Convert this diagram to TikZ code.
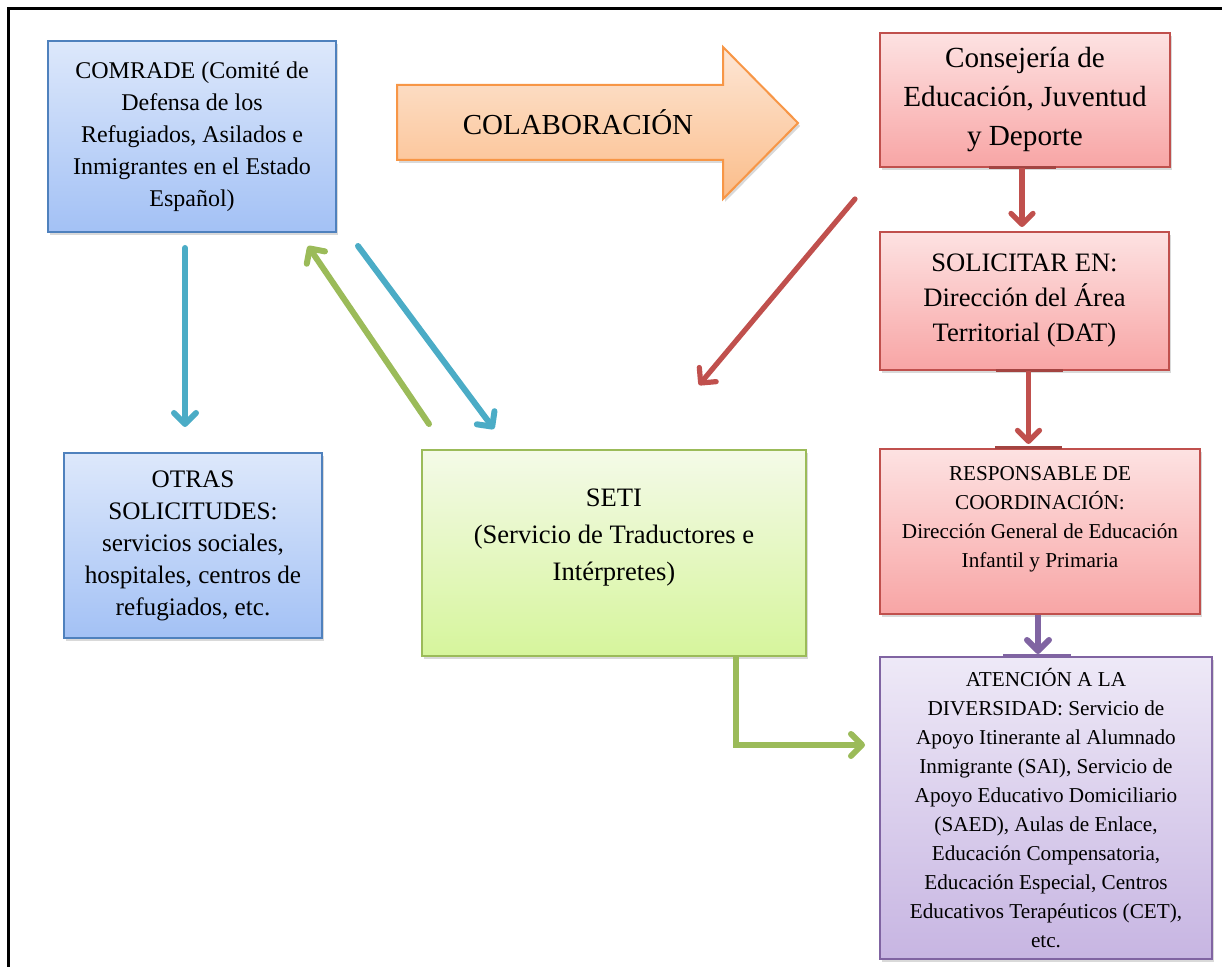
\documentclass[tikz,border=0pt]{standalone}
\usepackage{fontspec}
\setmainfont{Liberation Serif}
\usetikzlibrary{arrows.meta,shadows,calc}
\definecolor{bluebd}{HTML}{4F81BD}
\definecolor{bluetop}{HTML}{DDE8FB}
\definecolor{bluebot}{HTML}{A3C1F5}
\definecolor{orangebd}{HTML}{F79646}
\definecolor{orangetop}{HTML}{FDE6D5}
\definecolor{orangebot}{HTML}{FBBD8A}
\definecolor{redbd}{HTML}{C0504D}
\definecolor{redtop}{HTML}{FDE2E2}
\definecolor{redbot}{HTML}{F8A5A5}
\definecolor{greenbd}{HTML}{9BBB59}
\definecolor{greentop}{HTML}{F4FAE8}
\definecolor{greenbot}{HTML}{D6F59C}
\definecolor{purplebd}{HTML}{8064A2}
\definecolor{purpletop}{HTML}{EEE9F7}
\definecolor{purplebot}{HTML}{C7B5E2}
\definecolor{cyanarrow}{HTML}{4BACC6}
\begin{document}
\begin{tikzpicture}[x=0.5pt,y=-0.5pt,
  box/.style={draw, line width=1pt, align=center, inner sep=2pt,
    drop shadow={shadow xshift=1pt, shadow yshift=-1.5pt, opacity=0.3}},
  bluebox/.style={box, draw=bluebd, top color=bluetop, bottom color=bluebot},
  redbox/.style={box, draw=redbd, top color=redtop, bottom color=redbot},
  greenbox/.style={box, draw=greenbd, top color=greentop, bottom color=greenbot},
  purplebox/.style={box, draw=purplebd, top color=purpletop, bottom color=purplebot},
  orangearrow/.style={draw=orangebd, line width=1pt, line join=miter, top color=orangetop, bottom color=orangebot,
    drop shadow={shadow xshift=1pt, shadow yshift=-1.5pt, opacity=0.3}},
  conn/.style={line width=3pt, line cap=round,
    -{Straight Barb[length=5.5pt,width=11pt,line cap=round,line join=round]}},
  blueconn/.style={conn, draw=cyanarrow},
  greenconn/.style={conn, draw=greenbd},
  redconn/.style={conn, draw=redbd, line width=2.6pt},
  purpleconn/.style={conn, draw=purplebd},
  bar/.style={line width=1.5pt}
]
\useasboundingbox (0,0) rectangle (1222,967);
\draw[line width=1.4pt] (8.7,970) -- (8.7,8.7) -- (1225,8.7);

% boxes
\node[bluebox, minimum width=144pt, minimum height=95.5pt, font=\fontsize{12}{16}\selectfont] (comrade) at (192,136.5)
  {COMRADE (Comité de\\Defensa de los\\Refugiados, Asilados e\\Inmigrantes en el Estado\\Español)};
\node[bluebox, minimum width=129pt, minimum height=92.5pt, font=\fontsize{12.6}{16}\selectfont] (otras) at (193,545.5)
  {OTRAS\\SOLICITUDES:\\servicios sociales,\\hospitales, centros de\\refugiados, etc.};
\node[greenbox, minimum width=192pt, minimum height=103pt, font=\fontsize{13.3}{18.5}\selectfont] (seti) at (614,553)
  {SETI\\(Servicio de Traductores e\\Intérpretes)\\\mbox{}};
\node[redbox, minimum width=145pt, minimum height=67pt, font=\fontsize{14.6}{19.5}\selectfont] (conse) at (1025,100)
  {Consejería de\\Educación, Juventud\\y Deporte};
\node[redbox, minimum width=144.5pt, minimum height=69pt, font=\fontsize{13.3}{17.5}\selectfont] (solic) at (1024.5,301)
  {SOLICITAR EN:\\Dirección del Área\\Territorial (DAT)};
\node[redbox, minimum width=160pt, minimum height=82.5pt, font=\fontsize{10.6}{14.5}\selectfont] (resp) at (1040,531.5)
  {RESPONSABLE DE\\COORDINACIÓN:\\Dirección General de Educación\\Infantil y Primaria\\\mbox{}};
\node[purplebox, minimum width=166pt, minimum height=151pt, font=\fontsize{10.6}{14.5}\selectfont] (atenc) at (1046,808)
  {ATENCIÓN A LA\\DIVERSIDAD: Servicio de\\Apoyo Itinerante al Alumnado\\Inmigrante (SAI), Servicio de\\Apoyo Educativo Domiciliario\\(SAED), Aulas de Enlace,\\Educación Compensatoria,\\Educación Especial, Centros\\Educativos Terapéuticos (CET),\\etc.};

% collaboration arrow
\path[orangearrow] (397,85) -- (723,85) -- (723,47) -- (798,123) -- (723,199) -- (723,160) -- (397,160) -- cycle;
\node[font=\fontsize{14.5}{18}\selectfont] (colab) at (578,122) {COLABORACIÓN};

% connector marks
\draw[bar, draw=redbd!85!black] ([xshift=-18pt]conse.south) -- ([xshift=15.5pt]conse.south);
\draw[bar, draw=redbd!85!black] ([xshift=-14.5pt]solic.south) -- ([xshift=19pt]solic.south);
\draw[bar, draw=redbd!85!black] ([xshift=-22.5pt]resp.north) -- ([xshift=11pt]resp.north);
\draw[bar, draw=purplebd] ([xshift=-21.5pt]atenc.north) -- ([xshift=12.5pt]atenc.north);

% connectors
\draw[blueconn] ([xshift=-3.5pt,yshift=-7.5pt]comrade.south) -- ([xshift=-4pt,yshift=12.5pt]otras.north);
\draw[blueconn] ([xshift=10.5pt,yshift=-6.5pt]comrade.south east) -- ([xshift=36.5pt,yshift=10pt]seti.north west);
\draw[greenconn] ([xshift=4pt,yshift=12.5pt]seti.north west) -- ([xshift=-14.5pt,yshift=-6.5pt]comrade.south east);
\draw[redconn] ([xshift=-12pt,yshift=-15.5pt]conse.south west) -- ([xshift=-54pt,yshift=32pt]seti.north east);
\draw[redconn, line cap=butt] ([xshift=-1.5pt]conse.south) -- ([xshift=-1.5pt,yshift=2pt]conse.south |- solic.north);
\draw[redconn, line cap=butt] ([xshift=2pt]solic.south) -- ([xshift=2pt,yshift=2pt]solic.south |- resp.north);
\draw[purpleconn, line cap=butt] ([xshift=-1pt]resp.south) -- ([xshift=-1pt,yshift=1pt]resp.south |- atenc.north);
\draw[greenconn, line cap=butt, line join=miter] ([xshift=61pt]seti.south) |- ([xshift=-7pt,yshift=31.5pt]atenc.west);
\end{tikzpicture}
\end{document}
